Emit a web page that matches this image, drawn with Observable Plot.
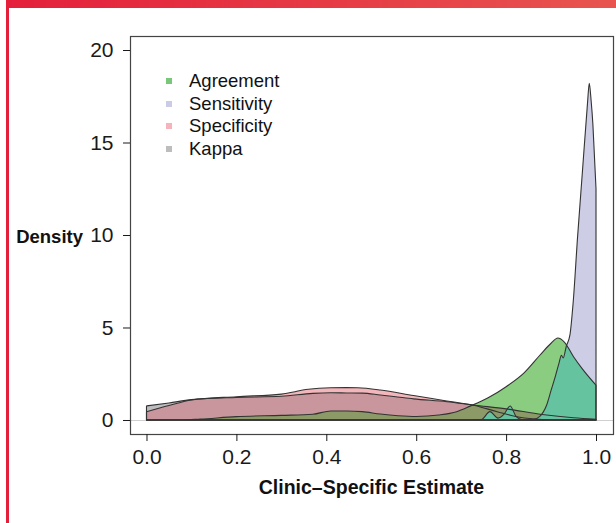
<!DOCTYPE html>
<html><head><meta charset="utf-8">
<script src="https://cdn.jsdelivr.net/npm/d3@7"></script>
<script src="https://cdn.jsdelivr.net/npm/@observablehq/plot@0.6"></script>
<style>
body{margin:0;background:#fff;}
#wrap{position:relative;width:616px;height:523px;overflow:hidden;font-family:"Liberation Sans",Arial,Helvetica,sans-serif;color:#111;background:#fff;}
#chart{position:absolute;left:0;top:0;}
#topbar{position:absolute;left:6px;top:0;width:610px;height:8px;background:linear-gradient(90deg,#e41f3b,#e8544f);}
#leftbar{position:absolute;left:6px;top:0;width:3px;height:523px;background:#e41f3b;}
.lab{position:absolute;font-weight:bold;font-size:18.5px;line-height:20px;white-space:nowrap;}
.leg{position:absolute;left:166px;font-size:18.5px;line-height:20px;white-space:nowrap;}
.leg span.sw{position:absolute;left:0;top:7px;width:6px;height:6px;}
.leg span.t{position:absolute;left:23px;top:0;}
</style>
</head><body>
<div id="wrap">
  <div id="chart"></div>
  <div id="topbar"></div>
  <div id="leftbar"></div>
  <div class="lab" style="left:0;width:83px;text-align:right;top:227px;">Density</div>
  <div class="lab" style="left:130px;width:483px;text-align:center;top:477px;font-size:19.5px;">Clinic–Specific Estimate</div>
  <div id="legend"></div>
</div>
<script>
// ---- data ----
const seriesNames = ["Agreement", "Sensitivity", "Specificity", "Kappa"];
const legendColors = ["#79c779", "#cbcbe8", "#f5b4bb", "#bdbdbd"];

const estimateAgreement = [0, 0.08, 0.12, 0.2, 0.3, 0.37, 0.41, 0.445, 0.48, 0.52, 0.56, 0.6, 0.65, 0.69, 0.72, 0.76, 0.80, 0.84, 0.875, 0.90, 0.915, 0.93, 0.95, 0.97, 1.0];
const densityAgreement  = [0, 0, 0.05, 0.18, 0.25, 0.31, 0.49, 0.49, 0.45, 0.32, 0.23, 0.19, 0.27, 0.45, 0.75, 1.2, 1.8, 2.55, 3.5, 4.15, 4.43, 4.2, 3.42, 2.75, 1.88];

const estimateSensitivity = [0, 0.72, 0.745, 0.764, 0.782, 0.795, 0.809, 0.822, 0.835, 0.86, 0.875, 0.89, 0.90, 0.91, 0.918, 0.923, 0.927, 0.934, 0.942, 0.949, 0.959, 0.970, 0.981, 0.985, 0.989, 0.993, 0.997, 1.0];
const densitySensitivity  = [0, 0, 0.02, 0.45, 0.1, 0.3, 0.76, 0.2, 0.03, 0.03, 0.2, 0.8, 1.6, 2.4, 3.1, 3.5, 3.35, 4.0, 4.6, 6.3, 9.9, 13.5, 17.1, 18.2, 17.3, 16.0, 14.0, 12.5];

const estimateSpecificity = [0, 0.05, 0.1, 0.2, 0.3, 0.36, 0.41, 0.445, 0.47, 0.52, 0.594, 0.668, 0.73, 0.78, 0.83, 0.88, 0.93, 1.0];
const densitySpecificity  = [0.45, 0.78, 1.08, 1.26, 1.4, 1.66, 1.74, 1.75, 1.74, 1.62, 1.32, 1.03, 0.78, 0.45, 0.15, 0.03, 0, 0];

const estimateKappa = [0, 0.05, 0.1, 0.2, 0.3, 0.37, 0.41, 0.445, 0.48, 0.52, 0.55, 0.594, 0.668, 0.73, 0.8, 0.88, 0.95, 1.0];
const densityKappa  = [0.76, 0.92, 1.1, 1.22, 1.28, 1.44, 1.47, 1.46, 1.45, 1.35, 1.27, 1.14, 0.99, 0.8, 0.6, 0.3, 0.12, 0.04];

const xTicks = [0, 0.2, 0.4, 0.6, 0.8, 1.0];
const yTicks = [0, 5, 10, 15, 20];

// ---- styling ----
const fillA = "#8acd80", fillS = "#cdcde6", fillP = "#f3b6bb", fillK = "#bdbdbf";
const mauve = "#c8969c", olive = "#8c9a68", teal = "#66c3a0";
const outline = "#333";
const curve = "monotone-x";

const rows = (xs, ys) => xs.map((x, i) => ({x, y: ys[i]}));
const A = rows(estimateAgreement, densityAgreement);
const S = rows(estimateSensitivity, densitySensitivity);
const P = rows(estimateSpecificity, densitySpecificity);
const K = rows(estimateKappa, densityKappa);

const svg = Plot.plot({
  width: 616, height: 523,
  marginLeft: 130, marginRight: 3, marginTop: 36, marginBottom: 89,
  x: {domain: [-0.0367, 1.0378]},
  y: {domain: [-0.757, 20.757]},
  style: {fontFamily: '"Liberation Sans", Arial, Helvetica, sans-serif', background: "white", color: "#1a1a1a"},
  marks: [
    Plot.ruleY([0], {stroke: "#cfcfcf", strokeWidth: 1}),
    Plot.areaY(K, {x: "x", y: "y", fill: fillK, curve}),
    Plot.areaY(P, {x: "x", y: "y", fill: fillP, curve}),
    Plot.areaY(A, {x: "x", y: "y", fill: fillA, curve}),
    Plot.areaY(S, {x: "x", y: "y", fill: fillS, curve}),
    Plot.areaY(K, {x: "x", y: "y", fill: "none", stroke: outline, strokeWidth: 1.1, curve}),
    Plot.areaY(P, {x: "x", y: "y", fill: "none", stroke: outline, strokeWidth: 1.1, curve}),
    Plot.areaY(A, {x: "x", y: "y", fill: "none", stroke: outline, strokeWidth: 1.1, curve}),
    Plot.areaY(S, {x: "x", y: "y", fill: "none", stroke: outline, strokeWidth: 1.1, curve}),
    Plot.frame({stroke: "#444", strokeWidth: 1.2}),
    Plot.axisX({ticks: xTicks, tickFormat: d3.format(".1f"), tickSize: 7, tickPadding: 8, fontSize: 21, label: null}),
    Plot.axisY({ticks: yTicks, tickSize: 7, tickPadding: 10, fontSize: 21, label: null})
  ]
});

// overlap shading: clip one density's area by another's
const ns = "http://www.w3.org/2000/svg";
const areaGroups = svg.querySelectorAll('g[aria-label="area"]');
const [gK, gP, gA, gS] = areaGroups;
const defs = document.createElementNS(ns, "defs");
svg.insertBefore(defs, svg.firstChild);
function overlay(src, clipBy, fill, id, after) {
  const cp = document.createElementNS(ns, "clipPath");
  cp.setAttribute("id", id);
  const p = document.createElementNS(ns, "path");
  p.setAttribute("d", clipBy.querySelector("path").getAttribute("d"));
  cp.appendChild(p);
  defs.appendChild(cp);
  const g = src.cloneNode(true);
  g.setAttribute("fill", fill);
  g.setAttribute("aria-label", "overlap");
  g.querySelectorAll("path").forEach(q => q.setAttribute("fill", fill));
  g.setAttribute("clip-path", `url(#${id})`);
  after.parentNode.insertBefore(g, after.nextSibling);
}
overlay(gP, gK, mauve, "clipK", gP);
overlay(gK, gA, olive, "clipA1", gA);
overlay(gS, gA, teal, "clipA2", gS);

document.getElementById("chart").appendChild(svg);

// legend
const legend = document.getElementById("legend");
const legendTops = [71, 93.5, 116, 139];
seriesNames.forEach((name, i) => {
  const d = document.createElement("div");
  d.className = "leg";
  d.style.top = legendTops[i] + "px";
  d.innerHTML = `<span class="sw" style="background:${legendColors[i]}"></span><span class="t">${name}</span>`;
  legend.appendChild(d);
});
</script>
</body></html>
